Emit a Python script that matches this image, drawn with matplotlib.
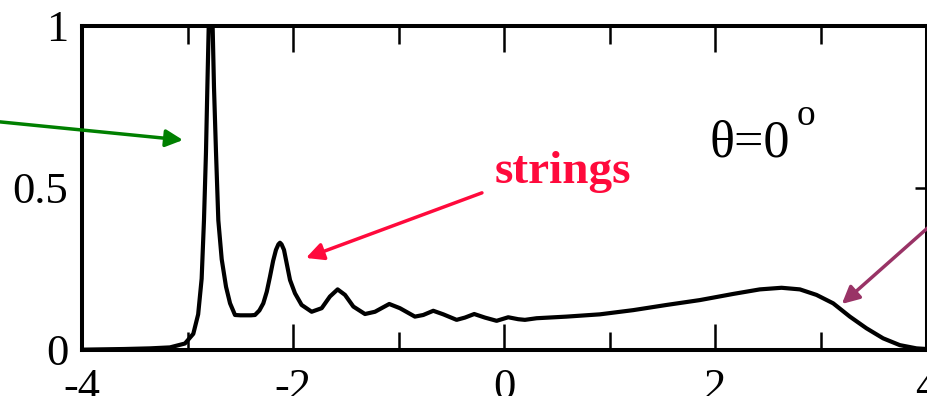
import numpy as np
import matplotlib
matplotlib.use('Agg')
import matplotlib.pyplot as plt
from matplotlib.ticker import MultipleLocator

plt.rcParams['font.family'] = ['Liberation Serif', 'DejaVu Serif']

# spectral function, theta = 0
energy = [-4.0, -3.6, -3.356, -3.167, -3.025, -2.946, -2.90, -2.867, -2.845,
          -2.826, -2.813, -2.80, -2.785, -2.763, -2.75, -2.731, -2.709, -2.677,
          -2.636, -2.598, -2.551, -2.50, -2.45, -2.40, -2.362, -2.32, -2.283,
          -2.25, -2.22, -2.19, -2.163, -2.14, -2.125, -2.11, -2.087, -2.06,
          -2.03, -1.983, -1.920, -1.825, -1.730, -1.652, -1.579, -1.509, -1.430,
          -1.320, -1.225, -1.090, -0.989, -0.847, -0.768, -0.673, -0.578, -0.452,
          -0.373, -0.285, -0.184, -0.073, 0.037, 0.132, 0.195, 0.306, 0.59,
          0.905, 1.221, 1.537, 1.852, 2.168, 2.42, 2.626, 2.80, 2.957, 3.115,
          3.273, 3.43, 3.588, 3.746, 3.904, 4.0]
spectral = [0.001, 0.003, 0.005, 0.008, 0.02, 0.05, 0.11, 0.22, 0.40,
            0.61, 0.81, 1.0, 1.6, 1.0, 0.81, 0.61, 0.40, 0.28,
            0.195, 0.144, 0.108, 0.107, 0.107, 0.107, 0.108, 0.122, 0.144,
            0.18, 0.226, 0.275, 0.309, 0.326, 0.331, 0.326, 0.309, 0.265,
            0.216, 0.175, 0.139, 0.118, 0.129, 0.165, 0.187, 0.170, 0.134,
            0.111, 0.118, 0.142, 0.129, 0.103, 0.108, 0.121, 0.110, 0.093,
            0.100, 0.111, 0.100, 0.090, 0.101, 0.095, 0.093, 0.098, 0.103,
            0.11, 0.123, 0.139, 0.154, 0.173, 0.187, 0.192, 0.187, 0.17, 0.144,
            0.103, 0.067, 0.036, 0.015, 0.005, 0.003]

xticks = [-4, -2, 0, 2, 4]
xticklabels = ['-4', '-2', '0', '2', '4']
yticks = [0, 0.5, 1]
yticklabels = ['0', '0.5', '1']

fig = plt.figure(figsize=(9.28, 3.96), dpi=100)
ax = fig.add_axes([0.0884, 0.1162, 0.9101, 0.8182])

ax.plot(energy, spectral, color='black', lw=3.0, solid_joinstyle='round')
ax.set_xlim(-4, 4)
ax.set_ylim(0, 1)

ax.set_xticks(xticks)
ax.set_xticklabels(xticklabels)
ax.xaxis.set_minor_locator(MultipleLocator(1))
ax.set_yticks(yticks)
ax.set_yticklabels(yticklabels)

for s in ax.spines.values():
    s.set_linewidth(2.9)

ax.tick_params(axis='x', which='major', direction='in', top=True, bottom=True,
               length=18.5, width=1.8, labelsize=32, pad=13)
ax.tick_params(axis='x', which='minor', direction='in', top=True, bottom=True,
               length=13, width=1.8)
ax.tick_params(axis='y', which='major', direction='in', left=False, right=True,
               length=8.5, width=1.8, labelsize=32, pad=10)

# annotations
ax.text(1.947, 0.596, 'θ=0', fontsize=37.5, va='baseline', ha='left')
ax.text(2.77, 0.694, 'o', fontsize=27, va='baseline', ha='left')
ax.text(-0.089, 0.515, 'strings', fontsize=34, fontweight='bold',
        color='#ff0a3c', va='baseline', ha='left')

arrow_kw = dict(arrowstyle='-|>', mutation_scale=26, lw=2.5,
                shrinkA=0, shrinkB=0)
ax.annotate('', xy=(-3.044, 0.648), xytext=(-4.777, 0.704),
            arrowprops=dict(color='#008000', **arrow_kw), annotation_clip=False)
ax.annotate('', xy=(-1.879, 0.284), xytext=(-0.212, 0.485),
            arrowprops=dict(color='#ff0a3c', **arrow_kw), annotation_clip=False)
ax.annotate('', xy=(3.197, 0.142), xytext=(4.011, 0.377),
            arrowprops=dict(color='#993366', **arrow_kw), annotation_clip=False)

fig.savefig('out.png', dpi=100)
